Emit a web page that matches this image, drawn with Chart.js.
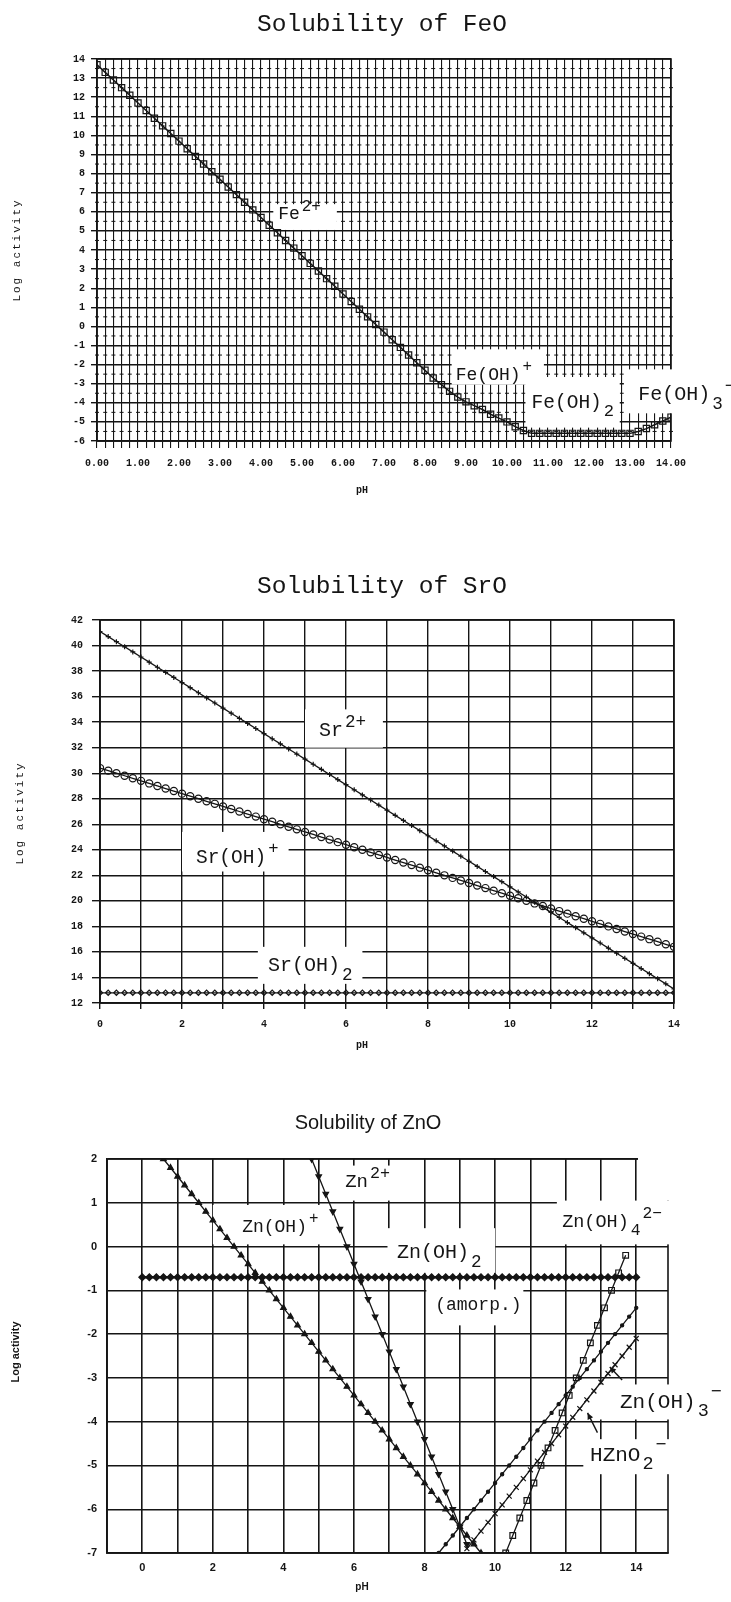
<!DOCTYPE html>
<html>
<head>
<meta charset="utf-8">
<title>Solubility diagrams</title>
<script src="https://cdn.jsdelivr.net/npm/chart.js@4.4.1/dist/chart.umd.min.js"></script>
<style>
  html, body { margin: 0; padding: 0; background: #fff; }
  body { width: 731px; height: 1602px; position: relative; overflow: hidden; }
  canvas { position: absolute; left: 0; }
</style>
</head>
<body>
<canvas id="feo" width="731" height="530" style="top:0px"></canvas>
<canvas id="sro" width="731" height="500" style="top:560px"></canvas>
<canvas id="zno" width="731" height="512" style="top:1090px"></canvas>
<script>
// pH grid shared by the FeO and SrO curves (and the amorphous Zn(OH)2 line)
const phGrid = [0,0.2,0.4,0.6,0.8,1,1.2,1.4,1.6,1.8,2,2.2,2.4,2.6,2.8,3,3.2,3.4,3.6,3.8,
  4,4.2,4.4,4.6,4.8,5,5.2,5.4,5.6,5.8,6,6.2,6.4,6.6,6.8,7,7.2,7.4,7.6,7.8,
  8,8.2,8.4,8.6,8.8,9,9.2,9.4,9.6,9.8,10,10.2,10.4,10.6,10.8,11,11.2,11.4,11.6,11.8,
  12,12.2,12.4,12.6,12.8,13,13.2,13.4,13.6,13.8,14];

// --- FeO ---
const feTotal = [13.7,13.3,12.9,12.5,12.1,11.7,11.3,10.9,10.5,10.1,
  9.7,9.3,8.9,8.5,8.1,7.7,7.3,6.9,6.5,6.1,
  5.7,5.3,4.9,4.5,4.1,3.7,3.3,2.9,2.5,2.1,
  1.7,1.3,0.9,0.5,0.1,-0.3,-0.7,-1.1,-1.5,-1.9,
  -2.3,-2.7,-3.05,-3.4,-3.7,-3.95,-4.15,-4.35,-4.6,-4.8,
  -5.0,-5.25,-5.45,-5.6,-5.6,-5.6,-5.6,-5.6,-5.6,-5.6,
  -5.6,-5.6,-5.6,-5.6,-5.6,-5.6,-5.5,-5.35,-5.15,-4.95,
  -4.75];
const feYTicks = [-6,-5,-4,-3,-2,-1,0,1,2,3,4,5,6,7,8,9,10,11,12,13,14];
const feNotchY = [-5.5,-4.5,-3.5,-2.5,-1.5,-0.5,0.5,1.5,2.5,3.5,4.5,5.5,6.5,7.5,8.5,9.5,10.5,11.5,12.5,13.5];

// --- SrO ---
const srIon = [41.1,40.7,40.3,39.9,39.5,39.1,38.7,38.3,37.9,37.5,
  37.1,36.7,36.3,35.9,35.5,35.1,34.7,34.3,33.9,33.5,
  33.1,32.7,32.3,31.9,31.5,31.1,30.7,30.3,29.9,29.5,
  29.1,28.7,28.3,27.9,27.5,27.1,26.7,26.3,25.9,25.5,
  25.1,24.7,24.3,23.9,23.5,23.1,22.7,22.3,21.9,21.5,
  21.1,20.7,20.3,19.9,19.5,19.1,18.7,18.3,17.9,17.5,
  17.1,16.7,16.3,15.9,15.5,15.1,14.7,14.3,13.9,13.5,
  13.1];
const srOH = [30.4,30.2,30.0,29.8,29.6,29.4,29.2,29.0,28.8,28.6,
  28.4,28.2,28.0,27.8,27.6,27.4,27.2,27.0,26.8,26.6,
  26.4,26.2,26.0,25.8,25.6,25.4,25.2,25.0,24.8,24.6,
  24.4,24.2,24.0,23.8,23.6,23.4,23.2,23.0,22.8,22.6,
  22.4,22.2,22.0,21.8,21.6,21.4,21.2,21.0,20.8,20.6,
  20.4,20.2,20.0,19.8,19.6,19.4,19.2,19.0,18.8,18.6,
  18.4,18.2,18.0,17.8,17.6,17.4,17.2,17.0,16.8,16.6,
  16.4];
const srOH2 = [12.8,12.8,12.8,12.8,12.8,12.8,12.8,12.8,12.8,12.8,
  12.8,12.8,12.8,12.8,12.8,12.8,12.8,12.8,12.8,12.8,
  12.8,12.8,12.8,12.8,12.8,12.8,12.8,12.8,12.8,12.8,
  12.8,12.8,12.8,12.8,12.8,12.8,12.8,12.8,12.8,12.8,
  12.8,12.8,12.8,12.8,12.8,12.8,12.8,12.8,12.8,12.8,
  12.8,12.8,12.8,12.8,12.8,12.8,12.8,12.8,12.8,12.8,
  12.8,12.8,12.8,12.8,12.8,12.8,12.8,12.8,12.8,12.8,
  12.8];
const srXTicks = [0,1,2,3,4,5,6,7,8,9,10,11,12,13,14];
const srYTicks = [12,14,16,18,20,22,24,26,28,30,32,34,36,38,40,42];

// --- ZnO ---
const znOHx = [0.6,0.8,1,1.2,1.4,1.6,1.8,2,2.2,2.4,2.6,2.8,3,3.2,3.4,3.6,3.8,4,4.2,4.4,
  4.6,4.8,5,5.2,5.4,5.6,5.8,6,6.2,6.4,6.6,6.8,7,7.2,7.4,7.6,7.8,8,8.2,8.4,8.6,8.8,9,9.2,9.4,9.6];
const znOHy = [2.0,1.8,1.6,1.4,1.2,1.0,0.8,0.6,0.4,0.2,0.0,-0.2,-0.4,-0.6,-0.8,-1.0,-1.2,-1.4,-1.6,-1.8,
  -2.0,-2.2,-2.4,-2.6,-2.8,-3.0,-3.2,-3.4,-3.6,-3.8,-4.0,-4.2,-4.4,-4.6,-4.8,-5.0,-5.2,-5.4,-5.6,-5.8,
  -6.0,-6.2,-6.4,-6.6,-6.8,-7.0];
const zn2x = [4.8,5.0,5.2,5.4,5.6,5.8,6.0,6.2,6.4,6.6,6.8,7.0,7.2,7.4,7.6,7.8,8.0,8.2,8.4,8.6,8.8,9.0,9.2];
const zn2y = [2.0,1.6,1.2,0.8,0.4,0.0,-0.4,-0.8,-1.2,-1.6,-2.0,-2.4,-2.8,-3.2,-3.6,-4.0,-4.4,-4.8,-5.2,-5.6,-6.0,-6.4,-6.8];
const amorpY = [-0.7,-0.7,-0.7,-0.7,-0.7,-0.7,-0.7,-0.7,-0.7,-0.7,
  -0.7,-0.7,-0.7,-0.7,-0.7,-0.7,-0.7,-0.7,-0.7,-0.7,
  -0.7,-0.7,-0.7,-0.7,-0.7,-0.7,-0.7,-0.7,-0.7,-0.7,
  -0.7,-0.7,-0.7,-0.7,-0.7,-0.7,-0.7,-0.7,-0.7,-0.7,
  -0.7,-0.7,-0.7,-0.7,-0.7,-0.7,-0.7,-0.7,-0.7,-0.7,
  -0.7,-0.7,-0.7,-0.7,-0.7,-0.7,-0.7,-0.7,-0.7,-0.7,
  -0.7,-0.7,-0.7,-0.7,-0.7,-0.7,-0.7,-0.7,-0.7,-0.7,
  -0.7];
const znOH3x = [8.4,8.6,8.8,9,9.2,9.4,9.6,9.8,10,10.2,10.4,10.6,10.8,11,11.2,11.4,11.6,11.8,12,12.2,
  12.4,12.6,12.8,13,13.2,13.4,13.6,13.8,14];
const znOH3y = [-7.0,-6.8,-6.6,-6.4,-6.2,-6.0,-5.8,-5.6,-5.4,-5.2,-5.0,-4.8,-4.6,-4.4,-4.2,-4.0,-3.8,-3.6,-3.4,-3.2,
  -3.0,-2.8,-2.6,-2.4,-2.2,-2.0,-1.8,-1.6,-1.4];
const hznx = [9.2,9.4,9.6,9.8,10,10.2,10.4,10.6,10.8,11,11.2,11.4,11.6,11.8,12,12.2,12.4,12.6,12.8,13,
  13.2,13.4,13.6,13.8,14];
const hzny = [-6.9,-6.7,-6.5,-6.3,-6.1,-5.9,-5.7,-5.5,-5.3,-5.1,-4.9,-4.7,-4.5,-4.3,-4.1,-3.9,-3.7,-3.5,-3.3,-3.1,
  -2.9,-2.7,-2.5,-2.3,-2.1];
const znOH4x = [10.3,10.5,10.7,10.9,11.1,11.3,11.5,11.7,11.9,12.1,12.3,12.5,12.7,12.9,13.1,13.3,13.5,13.7];
const znOH4y = [-7.0,-6.6,-6.2,-5.8,-5.4,-5.0,-4.6,-4.2,-3.8,-3.4,-3.0,-2.6,-2.2,-1.8,-1.4,-1.0,-0.6,-0.2];
const znXTicks = [-1,0,1,2,3,4,5,6,7,8,9,10,11,12,13,14];
const znYTicks = [-7,-6,-5,-4,-3,-2,-1,0,1,2];

const INK = '#151515';
const MONO = '"Liberation Mono", "DejaVu Sans Mono", monospace';
const SANS = '"Liberation Sans", Arial, sans-serif';

function series(label, xs, ys, style) {
  return Object.assign({
    label,
    data: xs.map((v, i) => ({ x: v, y: ys[i] })),
    borderColor: INK,
    borderWidth: 1.3,
    pointBorderColor: INK,
    pointBackgroundColor: 'rgba(0,0,0,0)',
    pointBorderWidth: 1.2,
    tension: 0,
    fill: false
  }, style);
}

function drawRich(ctx, x, y, parts, family, size) {
  let cx = x;
  parts.forEach(([t, s]) => {
    const fs = s ? size * 0.88 : size;
    if (s) cx += 2;
    ctx.font = fs + 'px ' + family;
    ctx.fillText(t, cx, y - s * size * 0.45);
    cx += ctx.measureText(t).width;
  });
}

// draws frame, grid notches, white label patches, labels, arrows and titles
const annotate = {
  id: 'annotate',
  beforeDatasetsDraw(chart, args, opts) {
    const { ctx, chartArea: a, scales: { x, y } } = chart;
    ctx.save();
    ctx.strokeStyle = INK;
    ctx.lineWidth = 1.6;
    ctx.strokeRect(a.left, a.top, a.right - a.left, a.bottom - a.top);
    if (opts.notches) {
      ctx.lineWidth = 1;
      ctx.beginPath();
      opts.notches.xs.forEach(vx => {
        const px = x.getPixelForValue(vx);
        opts.notches.ys.forEach(vy => {
          const py = y.getPixelForValue(vy);
          ctx.moveTo(px - 2, py);
          ctx.lineTo(px + 2, py);
        });
      });
      ctx.stroke();
    }
    ctx.fillStyle = '#fff';
    (opts.boxes || []).forEach(b => {
      const x0 = x.getPixelForValue(b[0]), x1 = x.getPixelForValue(b[1]);
      const y0 = y.getPixelForValue(b[2]), y1 = y.getPixelForValue(b[3]);
      ctx.fillRect(Math.min(x0, x1), Math.min(y0, y1), Math.abs(x1 - x0), Math.abs(y1 - y0));
    });
    ctx.fillStyle = INK;
    ctx.textBaseline = 'middle';
    ctx.textAlign = 'left';
    (opts.labels || []).forEach(l => {
      drawRich(ctx, x.getPixelForValue(l.at[0]), y.getPixelForValue(l.at[1]), l.parts, l.family || MONO, l.size);
    });
    ctx.strokeStyle = INK;
    ctx.lineWidth = 1.4;
    (opts.arrows || []).forEach(r => {
      const x0 = x.getPixelForValue(r[0]), y0 = y.getPixelForValue(r[1]);
      const x1 = x.getPixelForValue(r[2]), y1 = y.getPixelForValue(r[3]);
      const ang = Math.atan2(y1 - y0, x1 - x0);
      ctx.beginPath();
      ctx.moveTo(x0, y0);
      ctx.lineTo(x1, y1);
      ctx.stroke();
      ctx.beginPath();
      ctx.moveTo(x1, y1);
      ctx.lineTo(x1 - 7 * Math.cos(ang - 0.45), y1 - 7 * Math.sin(ang - 0.45));
      ctx.lineTo(x1 - 7 * Math.cos(ang + 0.45), y1 - 7 * Math.sin(ang + 0.45));
      ctx.closePath();
      ctx.fill();
    });
    ctx.restore();
  },
  afterDraw(chart, args, opts) {
    const { ctx } = chart;
    ctx.save();
    ctx.fillStyle = INK;
    ctx.textAlign = 'center';
    ctx.textBaseline = 'middle';
    const t = opts.title;
    ctx.font = t.font;
    ctx.fillText(t.text, t.x, t.y);
    const px = opts.xTitle;
    ctx.font = px.font;
    ctx.fillText(px.text, px.x, px.y);
    const py = opts.yTitle;
    ctx.translate(py.x, py.y);
    ctx.rotate(-Math.PI / 2);
    ctx.font = py.font;
    if (py.spacing) ctx.letterSpacing = py.spacing;
    ctx.fillText(py.text, 0, 0);
    ctx.restore();
  }
};

function makeChart(id, cfg) {
  const tickFont = { family: cfg.tickFamily, size: cfg.tickSize, weight: 'bold' };
  return new Chart(document.getElementById(id), {
    type: 'line',
    data: { datasets: cfg.datasets },
    options: {
      responsive: false,
      animation: false,
      layout: { padding: cfg.padding },
      plugins: {
        legend: { display: false },
        tooltip: { enabled: false },
        annotate: cfg.notes
      },
      scales: {
        x: {
          type: 'linear',
          min: cfg.xRange[0],
          max: cfg.xRange[1],
          afterBuildTicks: s => { s.ticks = cfg.xTicks.map(v => ({ value: v })); },
          afterFit: s => { s.height = 40; },
          grid: { color: INK, lineWidth: cfg.gridWidth, drawTicks: cfg.xTickLen > 0, tickLength: cfg.xTickLen, tickColor: INK },
          border: { color: INK, width: 1.6 },
          ticks: { autoSkip: false, maxRotation: 0, color: INK, font: tickFont, padding: cfg.xPad, callback: cfg.xFmt }
        },
        y: {
          type: 'linear',
          min: cfg.yRange[0],
          max: cfg.yRange[1],
          afterBuildTicks: s => { s.ticks = cfg.yTicks.map(v => ({ value: v })); },
          afterFit: s => { s.width = 40; },
          grid: { color: INK, lineWidth: 1.4, drawTicks: cfg.yTickLen > 0, tickLength: cfg.yTickLen, tickColor: INK },
          border: { color: INK, width: 1.6 },
          ticks: { autoSkip: false, color: INK, font: tickFont, padding: cfg.yPad }
        }
      }
    },
    plugins: [annotate]
  });
}

// Solubility of FeO
makeChart('feo', {
  padding: { left: 57, right: 60, top: 59, bottom: 49 },
  xRange: [0, 14], yRange: [-6, 14],
  xTicks: phGrid, yTicks: feYTicks,
  xFmt: v => Number.isInteger(v) ? v.toFixed(2) : '',
  tickFamily: MONO, tickSize: 10, gridWidth: 1.1,
  xTickLen: 7, xPad: 9, yTickLen: 6, yPad: 6,
  datasets: [
    series('Fe total', phGrid, feTotal, { pointStyle: 'rect', pointRadius: 4.4, borderWidth: 1.5 })
  ],
  notes: {
    title: { text: 'Solubility of FeO', x: 382, y: 25, font: '24.5px ' + MONO },
    xTitle: { text: 'pH', x: 362, y: 490, font: 'bold 10px ' + MONO },
    yTitle: { text: 'Log activity', x: 17, y: 250, font: '11px ' + MONO, spacing: '2px' },
    notches: { xs: phGrid, ys: feNotchY },
    boxes: [[4.3, 5.85, 6.4, 5.05], [8.65, 10.9, -1.2, -3.05], [10.45, 12.75, -2.65, -5.3], [12.85, 15.6, -2.25, -4.55]],
    labels: [
      { at: [4.42, 5.85], size: 18, parts: [['Fe', 0], ['2+', 1]] },
      { at: [8.75, -2.55], size: 18, parts: [['Fe(OH)', 0], ['+', 1]] },
      { at: [10.6, -4.0], size: 19.5, parts: [['Fe(OH)', 0], ['2', -1]] },
      { at: [13.2, -3.6], size: 20, parts: [['Fe(OH)', 0], ['3', -1], ['\u2212', 1]] }
    ]
  }
});

// Solubility of SrO
makeChart('sro', {
  padding: { left: 60, right: 57, top: 60, bottom: 17 },
  xRange: [0, 14], yRange: [12, 42],
  xTicks: srXTicks, yTicks: srYTicks,
  xFmt: v => v % 2 === 0 ? String(v) : '',
  tickFamily: MONO, tickSize: 10, gridWidth: 1.4,
  xTickLen: 6, xPad: 9, yTickLen: 8, yPad: 9,
  datasets: [
    series('Sr2+', phGrid, srIon, { pointStyle: 'cross', pointRadius: 2.5 }),
    series('Sr(OH)+', phGrid, srOH, { pointStyle: 'circle', pointRadius: 3.6 }),
    series('Sr(OH)2', phGrid, srOH2, { pointStyle: 'rectRot', pointRadius: 2.6 })
  ],
  notes: {
    title: { text: 'Solubility of SrO', x: 382, y: 27, font: '24.5px ' + MONO },
    xTitle: { text: 'pH', x: 362, y: 485, font: 'bold 10px ' + MONO },
    yTitle: { text: 'Log activity', x: 20, y: 253, font: '11px ' + MONO, spacing: '2px' },
    boxes: [[5.0, 6.9, 35.0, 32.0], [2.0, 4.6, 25.4, 22.3], [3.85, 6.4, 16.4, 13.5]],
    labels: [
      { at: [5.34, 33.3], size: 20, parts: [['Sr', 0], ['2+', 1]] },
      { at: [2.34, 23.4], size: 19.5, parts: [['Sr(OH)', 0], ['+', 1]] },
      { at: [4.1, 14.9], size: 20, parts: [['Sr(OH)', 0], ['2', -1]] }
    ]
  }
});

// Solubility of ZnO
makeChart('zno', {
  padding: { left: 67, right: 63, top: 69, bottom: 9 },
  xRange: [-1, 14.9], yRange: [-7, 2],
  xTicks: znXTicks, yTicks: znYTicks,
  xFmt: v => (v >= 0 && v % 2 === 0) ? String(v) : '',
  tickFamily: SANS, tickSize: 11, gridWidth: 1.6,
  xTickLen: 0, xPad: 8, yTickLen: 0, yPad: 10,
  datasets: [
    series('Zn(OH)+', znOHx, znOHy, { pointStyle: 'triangle', pointRadius: 3.2, pointBackgroundColor: INK }),
    series('Zn2+', zn2x, zn2y, { pointStyle: 'triangle', pointRotation: 180, pointRadius: 3.2, pointBackgroundColor: INK }),
    series('Zn(OH)2 (amorp.)', phGrid, amorpY, { pointStyle: 'rectRot', pointRadius: 3.4, pointBackgroundColor: INK, borderWidth: 2.5 }),
    series('Zn(OH)3-', znOH3x, znOH3y, { pointStyle: 'circle', pointRadius: 1.6, pointBackgroundColor: INK }),
    series('HZnO2-', hznx, hzny, { pointStyle: 'crossRot', pointRadius: 3.5 }),
    series('Zn(OH)4 2-', znOH4x, znOH4y, { pointStyle: 'rect', pointRadius: 4 })
  ],
  notes: {
    title: { text: 'Solubility of ZnO', x: 368, y: 33, font: '20px ' + SANS },
    xTitle: { text: 'pH', x: 362, y: 497, font: 'bold 10px ' + SANS },
    yTitle: { text: 'Log activity', x: 16, y: 262, font: 'bold 11px ' + SANS },
    boxes: [[5.6, 7.6, 1.85, 1.05], [2.0, 5.1, 0.95, 0.05], [6.95, 10.0, 0.42, -0.6], [8.05, 10.8, -0.98, -1.8],
            [11.75, 15.6, 1.05, 0.05], [12.95, 15.6, -3.15, -3.95], [12.5, 15.6, -4.4, -5.2], [14.05, 15.6, 2.3, 1.05]],
    labels: [
      { at: [5.75, 1.47], size: 19, parts: [['Zn', 0], ['2+', 1]] },
      { at: [2.83, 0.45], size: 18, parts: [['Zn(OH)', 0], ['+', 1]] },
      { at: [7.22, -0.15], size: 20, parts: [['Zn(OH)', 0], ['2', -1]] },
      { at: [8.3, -1.33], size: 18, parts: [['(amorp.)', 0]] },
      { at: [11.9, 0.56], size: 18.5, parts: [['Zn(OH)', 0], ['4', -1], ['2\u2212', 1]] },
      { at: [13.54, -3.55], size: 21, parts: [['Zn(OH)', 0], ['3', -1], ['\u2212', 1]] },
      { at: [12.69, -4.76], size: 21, parts: [['HZnO', 0], ['2', -1], ['\u2212', 1]] }
    ],
    arrows: [[13.6, -3.05, 13.25, -2.75], [12.9, -4.25, 12.62, -3.8]]
  }
});
</script>
</body>
</html>
